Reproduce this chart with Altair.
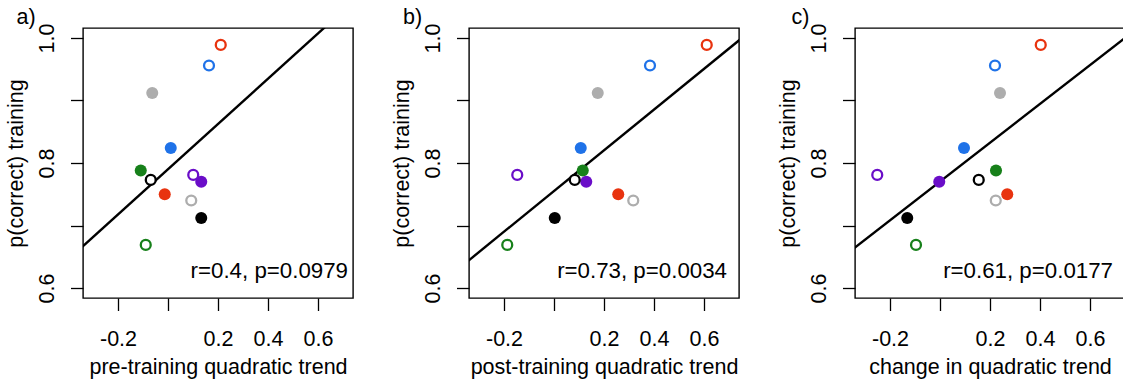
import altair as alt
import pandas as pd

# Accuracy during training, one value per participant/session
acc = [0.989, 0.956, 0.912, 0.824, 0.788, 0.773, 0.781, 0.770, 0.750, 0.740, 0.712, 0.669]
# Quadratic trend before training, after training, and the change
pre = [0.211, 0.164, -0.063, 0.011, -0.109, -0.069, 0.101, 0.133, -0.013, 0.093, 0.133, -0.089]
post = [0.611, 0.384, 0.175, 0.107, 0.115, 0.083, -0.147, 0.129, 0.257, 0.317, 0.003, -0.187]
change = [0.403, 0.220, 0.240, 0.096, 0.224, 0.155, -0.251, -0.003, 0.269, 0.223, -0.131, -0.096]
group = ["red", "blue", "gray", "blue", "green", "black",
         "purple", "purple", "red", "gray", "black", "green"]
session = ["open", "open", "filled", "filled", "filled", "open",
           "open", "filled", "filled", "open", "filled", "open"]

group_names = ["red", "blue", "gray", "green", "black", "purple"]
group_colors = ["#E8330F", "#1F72E8", "#ADADAD", "#17801A", "#000000", "#6A0DC8"]

x_ticks = [-0.2, 0.0, 0.2, 0.4, 0.6]
y_ticks = [0.6, 0.7, 0.8, 0.9, 1.0]

df = pd.DataFrame({"acc": acc, "pre": pre, "post": post, "change": change,
                   "group": group, "session": session})

FONT = "Liberation Sans"
FS = 21.5
W = H = 270

x_label_expr = ("datum.value == 0 ? '' : (datum.value < 0 ? '-' + format(-datum.value, '.1f')"
                " : format(datum.value, '.1f'))")
y_label_expr = "(round(datum.value * 10) % 2 == 0) ? format(datum.value, '.1f') : ''"


def panel(field, title, stat_text, letter, stat_x, letter_dx):
    x = alt.X(f"{field}:Q",
              scale=alt.Scale(domain=[-0.34, 0.74], nice=False, zero=False),
              axis=alt.Axis(values=x_ticks, labelExpr=x_label_expr, title=title,
                            domain=False, grid=False, tickSize=12.5, tickWidth=1.3,
                            tickColor="black", labelPadding=35, labelBaseline="alphabetic",
                            labelFontSize=FS, labelFont=FONT, labelColor="black",
                            titleFontSize=FS, titleFont=FONT, titleFontWeight="normal",
                            titleColor="black", titleBaseline="alphabetic",
                            titleY=75.5, titleX=W / 2, titleAlign="center"))
    y = alt.Y("acc:Q",
              scale=alt.Scale(domain=[0.584, 1.016], nice=False, zero=False),
              axis=alt.Axis(values=y_ticks, labelExpr=y_label_expr,
                            title="p(correct) training",
                            domain=False, grid=False, tickSize=12.5, tickWidth=1.3,
                            tickColor="black", labelAngle=-90, labelAlign="center",
                            labelBaseline="alphabetic", labelPadding=17,
                            labelFontSize=FS, labelFont=FONT, labelColor="black",
                            titleFontSize=FS, titleFont=FONT, titleFontWeight="normal",
                            titleColor="black", titleAngle=-90, titleAlign="center",
                            titleBaseline="alphabetic", titleX=-61, titleY=H / 2))
    color = alt.Color("group:N", scale=alt.Scale(domain=group_names, range=group_colors),
                      legend=None)
    base = alt.Chart(df)

    fit = base.transform_regression(field, "acc", extent=[-0.4, 0.8]).mark_line(
        color="black", strokeWidth=2.4, clip=True).encode(x=x, y=y)
    filled = base.transform_filter(alt.datum.session == "filled").mark_circle(
        size=145, opacity=1).encode(x=x, y=y, color=color)
    hollow = base.transform_filter(alt.datum.session == "open").mark_point(
        size=98, strokeWidth=2.3, fill="white", filled=False, fillOpacity=1,
        opacity=1).encode(x=x, y=y, color=color)

    note = alt.Chart(pd.DataFrame({"t": [stat_text]})).mark_text(
        align="right", baseline="alphabetic", font=FONT, fontSize=22.3, color="black"
    ).encode(x=alt.value(stat_x), y=alt.value(H - 20), text="t:N")
    tag = alt.Chart(pd.DataFrame({"t": [letter]})).mark_text(
        align="left", baseline="alphabetic", font=FONT, fontSize=FS, color="black"
    ).encode(x=alt.value(letter_dx), y=alt.value(-4.5), text="t:N")

    return alt.layer(fit, filled, hollow, note, tag).properties(width=W, height=H)


pa = panel("pre", "pre-training quadratic trend", "r=0.4, p=0.0979", "a)", 265, -66.5)
pb = panel("post", "post-training quadratic trend", "r=0.73, p=0.0034", "b)", 258, -66)
pc = panel("change", "change in quadratic trend", "r=0.61, p=0.0177", "c)", 258, -63.5)

chart = alt.hconcat(pa, pb, pc, spacing=116, bounds="flush").properties(
    autosize=alt.AutoSizeParams(type="none"),
    padding={"left": 83, "top": 28, "right": 1040, "bottom": 356},
    background="white",
).configure_view(stroke="black", strokeWidth=1.4)

chart.save("out.html", embed_options={"renderer": "svg", "actions": False})
